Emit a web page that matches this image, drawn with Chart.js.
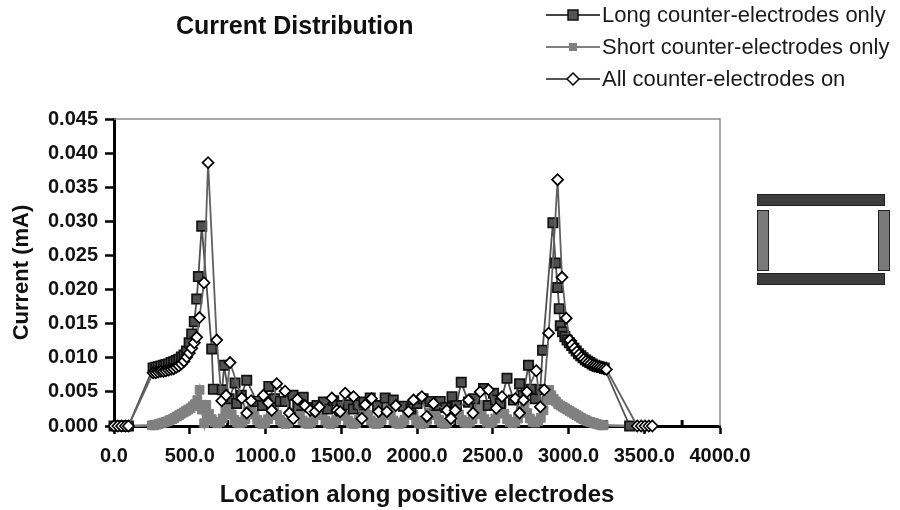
<!DOCTYPE html>
<html>
<head>
<meta charset="utf-8">
<script src="https://cdn.jsdelivr.net/npm/chart.js@4.4.1/dist/chart.umd.min.js"></script>
<style>
  html, body { margin: 0; padding: 0; background: #fff; }
  #wrap { position: relative; width: 900px; height: 510px; overflow: hidden; font-family: 'Liberation Sans', Arial, sans-serif; }
  #chart { position: absolute; left: 0; top: 0; }
  .title { position: absolute; left: 176px; top: 11px; font-size: 25px; font-weight: bold; color: #111; }
  .legend { position: absolute; left: 546px; top: -1px; }
  .legend-row { display: flex; align-items: center; height: 32px; font-size: 22px; color: #1a1a1a; white-space: nowrap; }
  .legend-row svg { width: 54px; height: 16px; margin-right: 2px; }
  .bar { position: absolute; border: 1px solid #222; box-sizing: border-box; }
</style>
</head>
<body>
<div id="wrap">
  <canvas id="chart" width="900" height="510"></canvas>
  <div class="title">Current Distribution</div>
  <div class="legend">
    <div class="legend-row">
      <svg viewBox="0 0 54 16"><line x1="0" y1="8" x2="54" y2="8" stroke="#444" stroke-width="2"/><rect x="22" y="3" width="10" height="10" fill="#555" stroke="#111" stroke-width="1.5"/></svg>
      <span>Long counter-electrodes only</span>
    </div>
    <div class="legend-row">
      <svg viewBox="0 0 54 16"><line x1="0" y1="8" x2="54" y2="8" stroke="#808080" stroke-width="2"/><rect x="23" y="4" width="8" height="8" fill="#808080"/></svg>
      <span>Short counter-electrodes only</span>
    </div>
    <div class="legend-row">
      <svg viewBox="0 0 54 16"><line x1="0" y1="8" x2="54" y2="8" stroke="#555" stroke-width="2"/><path d="M21 8 L27 2 L33 8 L27 14 Z" fill="#fff" stroke="#000" stroke-width="1.5"/></svg>
      <span>All counter-electrodes on</span>
    </div>
  </div>
  <!-- electrode layout sketch -->
  <div class="bar" style="left:757px; top:194px; width:128px; height:12px; background:#3d3d3d;"></div>
  <div class="bar" style="left:757px; top:273px; width:128px; height:12px; background:#3d3d3d;"></div>
  <div class="bar" style="left:757px; top:210px; width:12px; height:61px; background:#7a7a7a;"></div>
  <div class="bar" style="left:878px; top:210px; width:12px; height:61px; background:#7a7a7a;"></div>
</div>
<script>
const FONT = "'Liberation Sans', Arial, sans-serif";

// Long counter-electrodes only
const longX = [0, 25, 50, 75, 95,
  258, 275, 292, 309, 326, 343, 360, 377, 394, 411, 428, 445, 462, 479, 496, 513, 530, 546, 557, 579,
  645, 656, 714, 727, 760, 799, 810, 840, 876, 942, 980, 1022, 1060, 1096,
  1130, 1181, 1215, 1249, 1300, 1340, 1382, 1410, 1450, 1500, 1546, 1580, 1612, 1650, 1691, 1740, 1790,
  1843, 1910, 1960, 2000, 2040, 2087, 2120, 2153, 2190, 2231, 2260, 2292, 2340, 2380, 2439, 2470, 2505, 2517,
  2550, 2594, 2637, 2677, 2700, 2736, 2752, 2780, 2814, 2829, 2897, 2915, 2928,
  2939, 2946, 2961, 2976, 2991, 3006, 3021, 3036, 3051, 3066,
  3081, 3096, 3111, 3126, 3141, 3156, 3171, 3186, 3201, 3218,
  3236, 3404];
const longY = [0, 0, 0, 0, 0,
  0.0085, 0.0086, 0.0087, 0.0088, 0.0089, 0.0090, 0.0091, 0.0093, 0.0094, 0.0096, 0.0098, 0.0101, 0.0104, 0.0110, 0.0122, 0.0135, 0.0153, 0.0186, 0.0219, 0.0293,
  0.0113, 0.0054, 0.0053, 0.0089, 0.0040, 0.0063, 0.0033, 0.0045, 0.0067, 0.0036, 0.0030, 0.0058, 0.0040, 0.0036,
  0.0036, 0.0045, 0.0030, 0.0042, 0.0027, 0.0030, 0.0035, 0.0025, 0.0037, 0.0030, 0.0031, 0.0025, 0.0031, 0.0035, 0.0041, 0.0030, 0.0041,
  0.0038, 0.0029, 0.0025, 0.0033, 0.0040, 0.0036, 0.0030, 0.0036, 0.0027, 0.0043, 0.0030, 0.0064, 0.0035, 0.0040, 0.0055, 0.0030, 0.0048, 0.0038,
  0.0033, 0.0070, 0.0038, 0.0062, 0.0045, 0.0089, 0.0054, 0.0040, 0.0053, 0.0111, 0.0298, 0.0239, 0.0203,
  0.0172, 0.0147, 0.0138, 0.0131, 0.0126, 0.0122, 0.0118, 0.0114, 0.0110, 0.0106,
  0.0103, 0.0100, 0.0097, 0.0095, 0.0093, 0.0091, 0.0089, 0.0088, 0.0087, 0.0086,
  0.0085, 0];

// Short counter-electrodes only
const shortX = [0, 25, 50, 75, 95,
  250, 265, 280, 295, 310, 325, 340, 355, 370, 385, 400, 415, 430, 445, 460, 475, 490, 505, 520, 535, 550, 565, 580, 595,
  609, 627, 645, 663, 681, 699, 717, 735,
  759, 777, 795, 813, 831, 849, 867, 885,
  909, 927, 945, 963, 981, 999, 1017, 1035,
  1059, 1077, 1095, 1113, 1131, 1149, 1167, 1185,
  1209, 1227, 1245, 1263, 1281, 1299, 1317, 1335,
  1359, 1377, 1395, 1413, 1431, 1449, 1467, 1485,
  1509, 1527, 1545, 1563, 1581, 1599, 1617, 1635,
  1659, 1677, 1695, 1713, 1731, 1749, 1767, 1785,
  1809, 1827, 1845, 1863, 1881, 1899, 1917, 1935,
  1959, 1977, 1995, 2013, 2031, 2049, 2067, 2085,
  2109, 2127, 2145, 2163, 2181, 2199, 2217, 2235,
  2259, 2277, 2295, 2313, 2331, 2349, 2367, 2385,
  2409, 2427, 2445, 2463, 2481, 2499, 2517, 2535,
  2559, 2577, 2595, 2613, 2631, 2649, 2667, 2685,
  2709, 2727, 2745, 2763, 2781, 2799, 2817, 2835,
  2855, 2872, 2887, 2902, 2917, 2932, 2947, 2962, 2977, 2992, 3007, 3022, 3037,
  3052, 3067, 3082, 3097, 3112, 3127, 3142, 3157, 3172, 3187, 3202, 3217, 3232, 3400];
const shortY = [0, 0, 0, 0, 0,
  0.0001, 0.0001, 0.0002, 0.0003, 0.0004, 0.0005, 0.0006, 0.0007, 0.0009, 0.0010, 0.0012, 0.0014, 0.0016, 0.0018, 0.0020, 0.0022, 0.0024, 0.0026, 0.0029, 0.0032, 0.0038, 0.0053, 0.0024, 0.0004,
  0.0031, 0.0018, 0.0010, 0.0006, 0.0004, 0.0006, 0.0011, 0.0022,
  0.0030, 0.0017, 0.0009, 0.0005, 0.0004, 0.0006, 0.0010, 0.0021,
  0.0031, 0.0017, 0.0009, 0.0005, 0.0003, 0.0005, 0.0010, 0.0020,
  0.0029, 0.0016, 0.0009, 0.0005, 0.0003, 0.0005, 0.0010, 0.0020,
  0.0030, 0.0016, 0.0008, 0.0004, 0.0003, 0.0005, 0.0009, 0.0019,
  0.0029, 0.0016, 0.0008, 0.0004, 0.0003, 0.0005, 0.0009, 0.0019,
  0.0029, 0.0015, 0.0008, 0.0004, 0.0003, 0.0004, 0.0009, 0.0019,
  0.0029, 0.0016, 0.0008, 0.0004, 0.0003, 0.0005, 0.0009, 0.0019,
  0.0029, 0.0016, 0.0008, 0.0004, 0.0003, 0.0005, 0.0009, 0.0019,
  0.0030, 0.0016, 0.0008, 0.0004, 0.0003, 0.0005, 0.0009, 0.0020,
  0.0030, 0.0016, 0.0009, 0.0005, 0.0003, 0.0005, 0.0010, 0.0020,
  0.0031, 0.0017, 0.0009, 0.0005, 0.0004, 0.0006, 0.0010, 0.0021,
  0.0031, 0.0017, 0.0010, 0.0005, 0.0004, 0.0006, 0.0011, 0.0021,
  0.0032, 0.0018, 0.0010, 0.0006, 0.0004, 0.0006, 0.0011, 0.0022,
  0.0033, 0.0019, 0.0011, 0.0006, 0.0005, 0.0007, 0.0012, 0.0023,
  0.0038, 0.0053, 0.0045, 0.0040, 0.0036, 0.0032, 0.0030, 0.0028, 0.0026, 0.0024, 0.0022, 0.0020, 0.0018,
  0.0016, 0.0014, 0.0012, 0.0010, 0.0009, 0.0007, 0.0006, 0.0005, 0.0004, 0.0003, 0.0002, 0.0001, 0.0001, 0];

// All counter-electrodes on
const allX = [0, 25, 50, 75, 95,
  258, 275, 292, 309, 326, 343, 360, 377, 394, 411, 428, 445, 462, 480, 497, 513, 530, 546,
  564, 594, 621, 678, 711, 740, 766, 843, 876, 905,
  986, 1019, 1041, 1074, 1129, 1158, 1184, 1211, 1260, 1295,
  1328, 1356, 1438, 1471, 1493, 1526, 1581, 1636, 1658, 1700,
  1746, 1801, 1860, 1944, 1977, 2032, 2065, 2109, 2197, 2224,
  2252, 2340, 2369, 2417, 2472, 2523, 2561, 2649, 2677, 2703,
  2726, 2787, 2814, 2840, 2869, 2928, 2957, 2985, 3008, 3024,
  3040, 3055, 3070, 3085, 3100, 3115, 3130, 3145, 3160, 3175,
  3190, 3205, 3220, 3235, 3250,
  3454, 3480, 3505, 3530, 3553];
const allY = [0, 0, 0, 0, 0,
  0.0078, 0.0078, 0.0079, 0.0080, 0.0080, 0.0081, 0.0082, 0.0083, 0.0084, 0.0086, 0.0088, 0.0091, 0.0095, 0.0101, 0.0107, 0.0114, 0.0122, 0.0130,
  0.0159, 0.0210, 0.0386, 0.0126, 0.0037, 0.0045, 0.0093, 0.0041, 0.0019, 0.0037,
  0.0045, 0.0034, 0.0023, 0.0062, 0.0051, 0.0019, 0.0011, 0.0039, 0.0030, 0.0023,
  0.0021, 0.0028, 0.0041, 0.0023, 0.0021, 0.0048, 0.0043, 0.0011, 0.0031, 0.0040,
  0.0021, 0.0021, 0.0030, 0.0021, 0.0038, 0.0043, 0.0014, 0.0033, 0.0023, 0.0011,
  0.0023, 0.0038, 0.0019, 0.0050, 0.0053, 0.0026, 0.0043, 0.0040, 0.0019, 0.0038,
  0.0050, 0.0081, 0.0028, 0.0053, 0.0136, 0.0361, 0.0218, 0.0158, 0.0126, 0.0119,
  0.0114, 0.0109, 0.0105, 0.0101, 0.0098, 0.0095, 0.0093, 0.0091, 0.0089, 0.0088,
  0.0087, 0.0086, 0.0085, 0.0084, 0.0083,
  0, 0, 0, 0, 0];

const xMinorTicks = [250, 750, 1250, 1750, 2250, 2750, 3250, 3750];

const pts = (xs, ys) => xs.map((x, i) => ({ x: x, y: ys[i] }));

// gray frame on top/right, small inner ticks between the labelled ones
const framePlugin = {
    id: 'frame',
    beforeDatasetsDraw(chart) {
        const { ctx, chartArea: a, scales } = chart;
        ctx.save();
        ctx.strokeStyle = '#8c8c8c';
        ctx.lineWidth = 1.5;
        ctx.beginPath();
        ctx.moveTo(a.left, a.top);
        ctx.lineTo(a.right, a.top);
        ctx.lineTo(a.right, a.bottom);
        ctx.stroke();
        ctx.strokeStyle = '#000';
        ctx.lineWidth = 3;
        xMinorTicks.forEach(v => {
            const x = scales.x.getPixelForValue(v);
            ctx.beginPath();
            ctx.moveTo(x, a.bottom);
            ctx.lineTo(x, a.bottom - 6);
            ctx.stroke();
        });
        ctx.restore();
    }
};

new Chart(document.getElementById('chart'), {
    type: 'scatter',
    data: {
        datasets: [
            {
                label: 'All counter-electrodes on',
                data: pts(allX, allY),
                showLine: true,
                borderColor: '#606060',
                borderWidth: 1.8,
                pointStyle: 'rectRot',
                pointRadius: 5.5,
                pointBackgroundColor: '#fff',
                pointBorderColor: '#000',
                pointBorderWidth: 1.7,
                clip: false,
                order: 0
            },
            {
                label: 'Long counter-electrodes only',
                data: pts(longX, longY),
                showLine: true,
                borderColor: '#505050',
                borderWidth: 1.8,
                pointStyle: 'rect',
                pointRadius: 6.6,
                pointBackgroundColor: '#505050',
                pointBorderColor: '#111',
                pointBorderWidth: 1.7,
                clip: false,
                order: 1
            },
            {
                label: 'Short counter-electrodes only',
                data: pts(shortX, shortY),
                showLine: true,
                borderColor: '#808080',
                borderWidth: 2.5,
                pointStyle: 'rect',
                pointRadius: 6.2,
                pointBackgroundColor: '#808080',
                pointBorderColor: '#808080',
                pointBorderWidth: 1,
                clip: false,
                order: 2
            }
        ]
    },
    options: {
        responsive: false,
        animation: false,
        events: [],
        layout: { padding: { left: 0, right: 180, top: 119, bottom: 0 } },
        plugins: { legend: { display: false }, tooltip: { enabled: false } },
        scales: {
            x: {
                type: 'linear',
                min: 0,
                max: 4000,
                ticks: { stepSize: 500, callback: v => v.toFixed(1), color: '#111', padding: 10, maxRotation: 0,
                         font: { family: FONT, size: 20, weight: 'bold' } },
                grid: { drawOnChartArea: false, tickLength: 8, tickColor: '#000', tickWidth: 2.5 },
                border: { color: '#000', width: 3 },
                title: { display: true, text: 'Location along positive electrodes', color: '#111', padding: 0,
                         font: { family: FONT, size: 24, weight: 'bold' } },
                afterFit: s => { s.height = 84; }
            },
            y: {
                min: 0,
                max: 0.045,
                ticks: { stepSize: 0.005, callback: v => v.toFixed(3), color: '#111', padding: 7,
                         font: { family: FONT, size: 20, weight: 'bold' } },
                grid: { drawOnChartArea: false, tickLength: 9, tickColor: '#000', tickWidth: 2.5 },
                border: { color: '#000', width: 3 },
                title: { display: true, text: 'Current (mA)', color: '#111', padding: { top: 9, bottom: 0 },
                         font: { family: FONT, size: 22, weight: 'bold' } },
                afterFit: s => { s.width = 114; }
            }
        }
    },
    plugins: [framePlugin]
});
</script>
</body>
</html>
